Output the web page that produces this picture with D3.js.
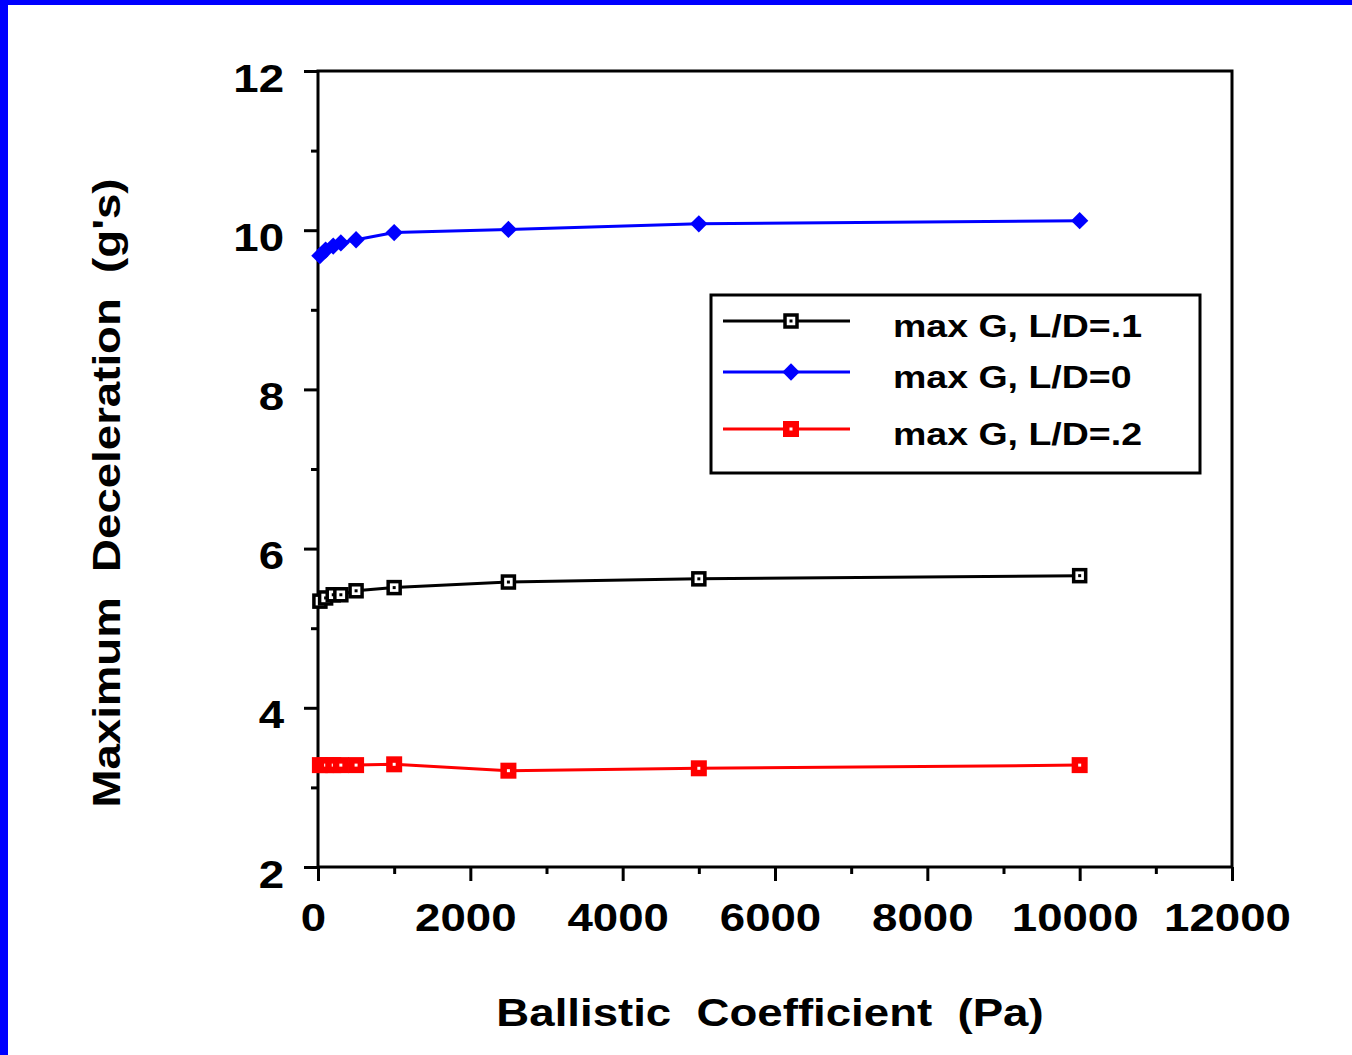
<!DOCTYPE html>
<html>
<head>
<meta charset="utf-8">
<script src="https://cdn.jsdelivr.net/npm/d3@7"></script>
<style>
  body { margin: 0; background: #fff; }
  svg { display: block; font-family: "Liberation Sans", Arial, Helvetica, sans-serif; font-weight: bold; }
</style>
</head>
<body>
<script>
// ballistic coefficient (Pa)
const beta = [25, 100, 200, 300, 500, 1000, 2500, 5000, 10000];
// max deceleration (g's) per L/D
const gLD1 = [5.34, 5.38, 5.42, 5.42, 5.47, 5.51, 5.58, 5.62, 5.66];
const gLD0 = [9.68, 9.75, 9.80, 9.84, 9.88, 9.97, 10.01, 10.08, 10.12];
const gLD2 = [3.28, 3.28, 3.28, 3.28, 3.28, 3.29, 3.21, 3.24, 3.28];

const seriesNames = ['max G, L/D=.1', 'max G, L/D=0', 'max G, L/D=.2'];
const xTicks = [0, 2000, 4000, 6000, 8000, 10000, 12000];
const yTicks = [2, 4, 6, 8, 10, 12];

const W = 1352, H = 1055;
const margin = { l: 318, t: 71, r: 120, b: 188 };
const w = W - margin.l - margin.r;
const h = H - margin.t - margin.b;
// the original type is a horizontally stretched Helvetica
const sx = 1.2;

const svg = d3.select('body').
append('svg').
attr('width', W).
attr('height', H);

// blue frame on left and top edges
svg.append('rect').attr('x', 0).attr('y', 0).attr('width', 8).attr('height', H).attr('fill', '#0000ff');
svg.append('rect').attr('x', 0).attr('y', 0).attr('width', W).attr('height', 5).attr('fill', '#0000ff');

const x = d3.scaleLinear().domain([0, 12000]).range([0, w]);
const y = d3.scaleLinear().domain([2, 12]).range([h, 0]);

const g = svg.append('g').attr('transform', `translate(${margin.l},${margin.t})`);

// minor ticks
g.append('g').
attr('transform', `translate(0,${h})`).
call(d3.axisBottom(x).tickValues(d3.range(1000, 12000, 2000)).tickSize(7).tickFormat('')).
call(a => a.select('.domain').remove()).
selectAll('line').attr('stroke-width', 3);

g.append('g').
call(d3.axisLeft(y).tickValues(d3.range(3, 12, 2)).tickSize(7).tickFormat('')).
call(a => a.select('.domain').remove()).
selectAll('line').attr('stroke-width', 3);

// major ticks + labels
const xAxis = g.append('g').
attr('transform', `translate(0,${h})`).
call(d3.axisBottom(x).tickValues(xTicks).tickSize(14).tickFormat(d3.format('d')));
xAxis.select('.domain').remove();
xAxis.selectAll('line').attr('stroke-width', 3);
xAxis.selectAll('text').
attr('y', 64).
attr('dy', 0).
attr('x', -5 / sx).
attr('transform', `scale(${sx},1)`).
attr('fill', '#000').
style('font-size', '38px').
style('font-weight', 'bold').
style('font-family', '"Liberation Sans", Arial, sans-serif');

const yAxis = g.append('g').
call(d3.axisLeft(y).tickValues(yTicks).tickSize(14));
yAxis.select('.domain').remove();
yAxis.selectAll('line').attr('stroke-width', 3);
yAxis.selectAll('text').
attr('x', -34 / sx).
attr('dy', 20).
attr('transform', `scale(${sx},1)`).
attr('fill', '#000').
style('font-size', '38px').
style('font-weight', 'bold').
style('font-family', '"Liberation Sans", Arial, sans-serif');

// plot frame
g.append('rect').
attr('width', w).
attr('height', h).
attr('fill', 'none').
attr('stroke', '#000').
attr('stroke-width', 3);

// series
const series = [
{ name: seriesNames[0], vals: gLD1, color: '#000000', marker: 'open' },
{ name: seriesNames[1], vals: gLD0, color: '#0000ff', marker: 'diamond' },
{ name: seriesNames[2], vals: gLD2, color: '#ff0000', marker: 'filled' }];


const line = d3.line().x(d => x(d[0])).y(d => y(d[1]));

function drawMarker(sel, s) {
  if (s.marker === 'diamond') {
    sel.append('path').
    attr('d', d3.symbol(d3.symbolSquare).size(150)()).
    attr('transform', 'rotate(45)').
    attr('fill', s.color);
  } else if (s.marker === 'open') {
    sel.append('rect').
    attr('x', -6).attr('y', -6).
    attr('width', 12).attr('height', 12).
    attr('fill', '#fff').
    attr('stroke', s.color).
    attr('stroke-width', 3.5);
    sel.append('rect').
    attr('x', -1.5).attr('y', -1.5).
    attr('width', 3).attr('height', 3).
    attr('fill', s.color);
  } else {
    sel.append('rect').
    attr('x', -8).attr('y', -8).
    attr('width', 16).attr('height', 16).
    attr('fill', s.color);
    sel.append('rect').
    attr('x', -1.5).attr('y', -1.5).
    attr('width', 3).attr('height', 3).
    attr('fill', '#fff');
  }
}

series.forEach(s => {
  const pts = beta.map((b, i) => [b, s.vals[i]]);
  g.append('path').
  datum(pts).
  attr('d', line).
  attr('fill', 'none').
  attr('stroke', s.color).
  attr('stroke-width', 3);

  g.selectAll(null).
  data(pts).
  enter().
  append('g').
  attr('transform', d => `translate(${x(d[0])},${y(d[1])})`).
  each(function () {drawMarker(d3.select(this), s);});
});

// legend
const legend = svg.append('g').attr('transform', 'translate(711,295)');
legend.append('rect').
attr('width', 489).
attr('height', 178).
attr('fill', '#fff').
attr('stroke', '#000').
attr('stroke-width', 3);

const rowY = [26, 77, 134];
series.forEach((s, i) => {
  const row = legend.append('g').attr('transform', `translate(0,${rowY[i]})`);
  row.append('line').
  attr('x1', 12).attr('x2', 139).
  attr('stroke', s.color).
  attr('stroke-width', 3);
  drawMarker(row.append('g').attr('transform', 'translate(80,0)'), s);
  row.append('text').
  attr('transform', 'translate(182,16) scale(1.21,1)').
  text(s.name).
  style('font-size', '31px');
});

// axis titles
svg.append('text').
attr('transform', `translate(770,1026) scale(${sx},1)`).
attr('text-anchor', 'middle').
style('font-size', '38px').
style('white-space', 'pre').
text('Ballistic  Coefficient  (Pa)');

svg.append('text').
attr('transform', `translate(120,493) rotate(-90) scale(${sx},1)`).
attr('text-anchor', 'middle').
style('font-size', '38px').
style('white-space', 'pre').
text('Maximum  Deceleration  (g\'s)');
</script>
</body>
</html>
